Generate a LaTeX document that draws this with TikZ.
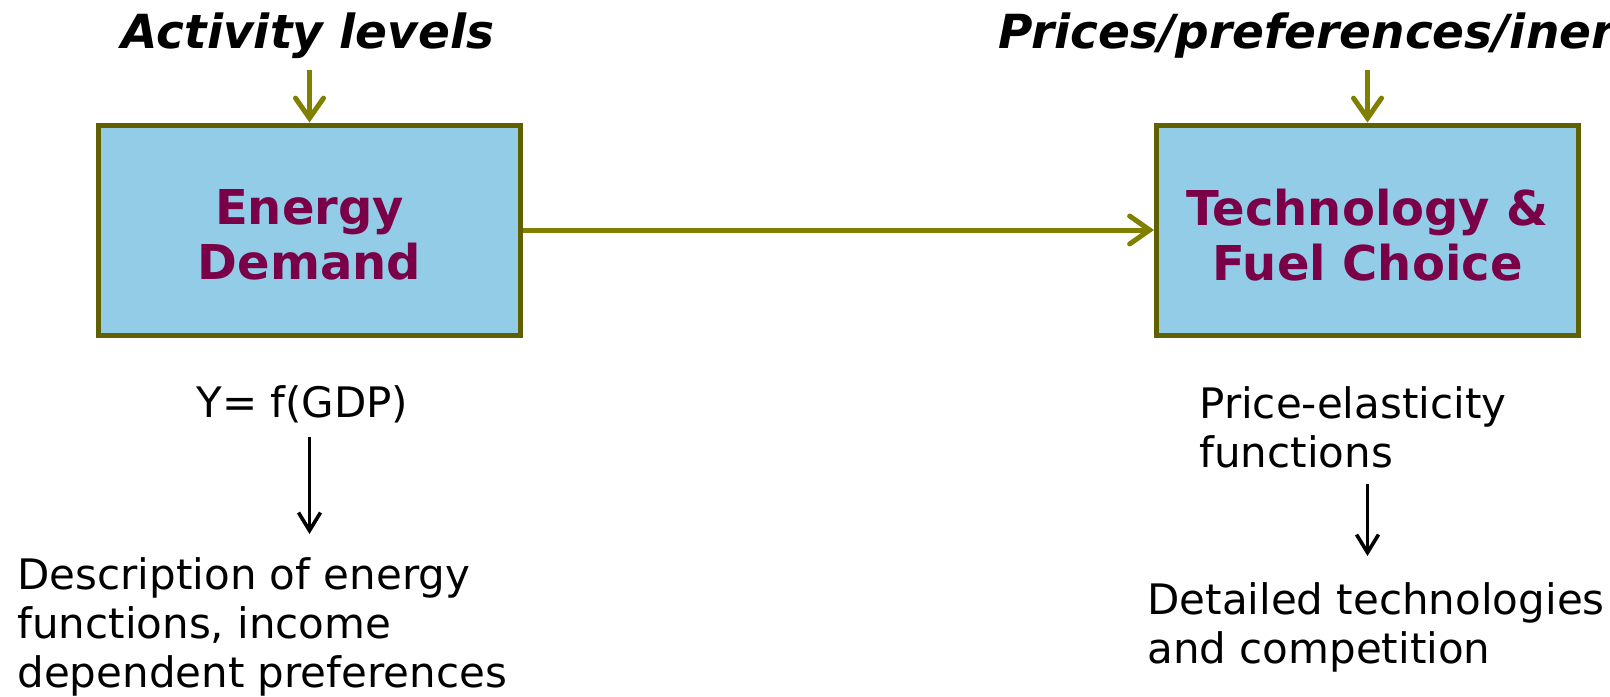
\documentclass[tikz,border=0pt]{standalone}
\usepackage{fontspec}
\setmainfont{DejaVu Sans}
\usetikzlibrary{arrows.meta}
\definecolor{boxfill}{RGB}{146,204,230}
\definecolor{boxline}{RGB}{96,96,0}
\definecolor{olivearrow}{RGB}{128,128,0}
\definecolor{boxtext}{RGB}{122,0,72}
\begin{document}
\begin{tikzpicture}[x=0.5pt,y=-0.5pt,
  box/.style={draw=boxline, fill=boxfill, line width=2.5pt,
    minimum width=211pt, minimum height=105pt, inner sep=0pt},
  boxlabel/.style={inner sep=0pt, align=center, text=boxtext,
    font=\fontsize{24}{27.5}\selectfont\bfseries},
  title/.style={font=\fontsize{23.5}{28}\selectfont\bfseries\itshape, inner sep=0pt},
  body/.style={font=\fontsize{21}{24.5}\selectfont, inner sep=0pt, align=left},
  feed/.style={draw=olivearrow, line width=2.5pt,
    -{Straight Barb[length=10pt,width=14pt,line cap=round]}},
  blk/.style={draw=black, line width=1.8pt, -{Straight Barb[length=9pt,width=11pt]}}
]
\clip (0,0) rectangle (1610,696);
\fill[white] (0,0) rectangle (1610,696);

% the two model blocks
\node[box] (ed) at (309.5,230) {};
\node[box] (tech) at (1367.5,230) {};
\node[boxlabel] (edText) at (309.5,235) {Energy\\Demand};
\node[boxlabel] (techText) at (1367.5,235) {Technology \&\\Fuel Choice};

% driver headings
\node[title, anchor=base] (act) at (308,48) {Activity levels};
\node[title, anchor=base west] (ppi) at (998,48) {Prices/preferences/inertia};
\coordinate (actIn) at (309.5,70);
\coordinate (ppiIn) at (1367.5,70);

% olive connectors
\draw[feed] (actIn) -- (ed.north);
\draw[feed] (ppiIn) -- (tech.north);
\draw[feed] (ed.east) -- (tech.west);

% explanatory notes
\node[body, anchor=base west] (ygdp) at (196,417) {Y= f(GDP)};
\node[body, anchor=north west] (desc) at (17,557)
  {Description of energy\\functions, income\\dependent preferences};
\node[body, anchor=north west] (pel) at (1199,386) {Price-elasticity\\functions};
\node[body, anchor=north west] (det) at (1147,582) {Detailed technologies\\and competition};

% black connectors
\draw[blk, shorten <=7pt, shorten >=11.5pt] (ygdp.south -| ed.south) -- (desc.north -| ed.south);
\draw[blk, shorten <=8pt, shorten >=13pt] (pel.south -| tech.south) -- (det.north -| tech.south);
\end{tikzpicture}
\end{document}
